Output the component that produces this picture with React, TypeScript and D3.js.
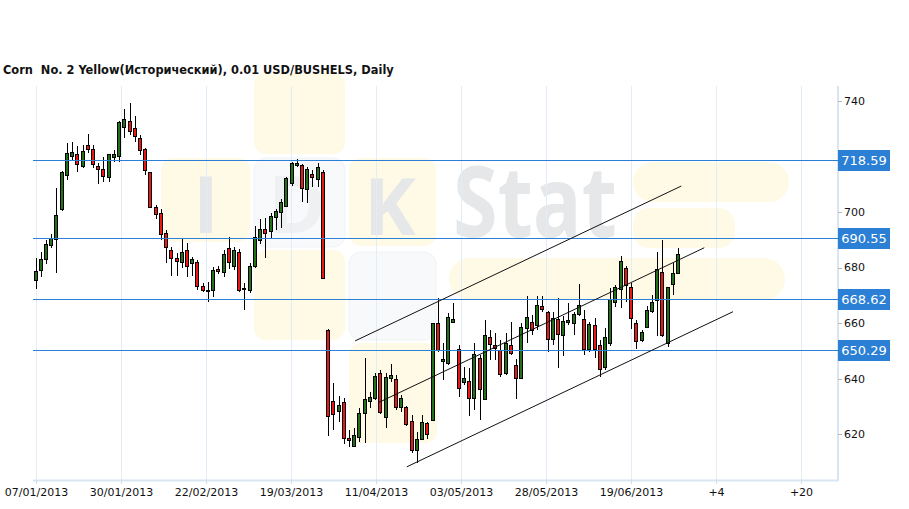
import React from "react";
import * as d3 from "d3";

const opens = [675.4,679.0,683.0,688.0,690.3,700.9,713.2,720.0,720.7,716.6,724.0,722.6,716.5,715.3,712.4,719.6,720.0,730.4,732.7,730.1,726.5,722.6,714.2,701.9,699.5,692.3,686.3,683.3,682.1,686.3,681.5,681.9,673.3,671.4,671.9,679.5,678.3,687.0,680.7,685.5,672.2,671.8,680.4,689.9,693.7,693.1,698.1,700.1,702.1,710.3,716.8,716.9,708.1,713.6,711.8,714.4,657.5,632.0,628.3,631.5,618.6,615.8,619.0,627.5,632.1,633.0,641.9,626.1,640.3,640.0,629.7,629.7,624.9,614.3,618.2,624.0,625.1,659.9,646.5,645.8,660.5,650.6,638.7,639.2,632.9,647.3,632.7,654.9,652.0,650.3,641.9,652.0,644.8,640.1,658.1,660.5,659.3,666.1,663.9,654.2,661.5,655.8,660.4,660.0,663.1,661.4,650.6,659.3,652.1,644.2,652.7,667.7,672.2,679.7,673.1,659.9,653.9,658.5,664.4,668.3,678.5,652.7,674.0,678.1];
const highs = [683.3,685.7,689.9,691.9,708.5,714.7,724.7,725.0,723.8,724.1,727.9,724.1,717.6,719.9,720.9,722.3,732.7,736.9,739.1,734.6,727.7,722.9,714.4,702.5,700.9,693.5,687.5,685.1,690.1,688.7,683.9,682.7,674.3,674.9,680.3,680.5,686.3,690.9,687.5,686.7,674.3,681.6,694.9,697.3,697.7,699.5,700.9,704.5,712.7,718.1,718.9,717.1,716.0,715.1,717.7,715.1,657.7,638.6,633.8,633.0,621.5,622.3,629.6,647.3,635.3,641.9,643.1,641.9,645.2,641.3,634.1,630.2,626.9,620.9,626.9,624.5,660.0,668.9,652.7,663.5,667.1,652.1,644.3,643.7,652.7,648.5,661.1,657.5,656.3,653.9,656.3,660.5,647.0,659.9,669.7,662.9,669.7,669.7,664.5,663.9,668.9,662.6,667.1,664.1,674.1,664.7,660.5,661.7,653.9,658.1,672.5,673.7,684.1,680.5,674.3,661.1,657.5,666.1,670.1,685.7,689.9,673.1,681.7,686.9];
const lows = [672.3,676.7,681.2,687.1,677.9,700.5,711.5,718.6,714.5,715.9,721.1,715.7,709.9,710.6,710.6,718.1,718.1,726.7,727.7,725.3,720.5,713.3,701.3,697.3,689.9,681.7,676.9,676.9,679.7,676.7,676.9,671.9,671.3,667.7,669.5,677.7,676.7,679.5,679.1,671.3,664.7,670.7,679.8,688.5,683.3,690.1,693.5,694.1,701.9,709.3,716.3,703.7,703.1,709.1,709.1,675.8,619.4,621.5,624.4,616.5,615.3,615.4,617.2,617.0,629.4,632.3,627.3,622.2,638.8,628.7,628.1,623.0,613.4,609.8,617.9,618.2,624.8,649.6,639.5,644.9,660.0,633.3,637.7,626.6,628.7,625.1,632.5,646.7,646.7,640.7,641.3,648.5,632.6,639.8,652.7,655.7,657.5,664.0,649.7,652.1,644.0,648.2,659.3,655.7,662.6,648.5,649.6,647.3,640.7,643.1,651.8,665.9,665.3,667.7,657.8,650.6,653.2,658.2,663.6,655.4,655.1,651.5,670.1,677.7];
const closes = [678.7,683.0,688.3,690.5,698.9,714.2,721.1,721.4,717.1,721.8,722.5,717.1,715.4,712.8,720.7,720.7,732.2,733.3,729.1,727.4,722.2,715.0,701.9,699.1,692.0,687.3,683.3,682.3,685.5,680.5,683.1,673.3,671.9,671.9,679.1,678.8,684.9,681.9,686.2,671.8,672.7,680.5,690.8,693.7,692.3,698.6,700.3,703.5,712.1,717.5,717.5,708.5,715.4,712.4,716.0,676.1,626.7,627.2,630.5,618.6,617.8,619.7,627.7,632.6,633.5,641.1,627.9,640.7,641.2,629.7,633.0,623.7,614.4,618.2,624.5,620.1,659.9,650.3,647.0,662.1,661.4,636.5,640.1,632.9,648.9,636.2,655.7,652.5,651.0,641.6,652.7,649.4,640.1,658.5,662.1,657.5,666.5,665.0,654.2,661.7,656.1,660.8,661.0,663.3,666.5,650.6,659.6,650.7,643.4,654.9,668.6,673.1,682.3,673.7,661.7,653.6,656.7,664.7,667.7,679.4,655.7,672.9,678.1,684.9];

const dateTickIdx = [0, 16.29, 32.58, 48.87, 65.16, 81.45, 97.74, 114.03, 130.32, 146.61];
const dateTickLabels = ["07/01/2013","30/01/2013","22/02/2013","19/03/2013","11/04/2013","03/05/2013","28/05/2013","19/06/2013","+4","+20"];
const priceTicks = [620, 640, 660, 680, 700, 740];
const levels = [718.59, 690.55, 668.62, 650.29];

const trendStartIdx = [61.17, 65.63, 71.07];
const trendStartPrice = [653.6, 631.4, 608.3];
const trendEndIdx = [123.6, 128.0, 133.5];
const trendEndPrice = [709.3, 687.1, 664.1];

const title = "Corn  No. 2 Yellow(Исторический), 0.01 USD/BUSHELS, Daily";

const W = 909, H = 509;
const L = 33, R = 838, T = 86, B = 480;
const FONT = "'DejaVu Sans', Verdana, sans-serif";
const GREEN = "#24701a";
const RED = "#ee1515";
const BLUE = "#2b7fd4";

export default function App() {
  const x = d3.scaleLinear().domain([-0.48, 153.6]).range([L, R]);
  const y = d3.scaleLinear().domain([603.56, 745.29]).range([B, T]);
  const yellow = "#fefae5";
  const whiteBlk = "#f8f9fb";
  const wmText = "#e6e7e9";

  return (
    <svg width={W} height={H} style={{ position: "absolute", left: 0, top: 0, background: "#fff" }}>
      {/* watermark */}
      <g>
        <rect x={254} y={73} width={91} height={81} rx={12} fill={yellow} />
        <rect x={161} y={158} width={89} height={84} rx={12} fill={yellow} />
        <rect x={254} y={158} width={91} height={89} rx={12} fill={whiteBlk} stroke="#f0f2f5" />
        <rect x={349} y={158} width={87} height={88} rx={12} fill={yellow} />
        <rect x={254} y={250} width={91} height={90} rx={12} fill={yellow} />
        <rect x={349} y={252} width={87} height={88} rx={12} fill={whiteBlk} stroke="#f0f2f5" />
        <rect x={349} y={343} width={88} height={100} rx={12} fill={yellow} />
        <rect x={633} y={162} width={156} height={40} rx={20} fill={yellow} />
        <rect x={633} y={208} width={102} height={40} rx={16} fill={yellow} />
        <rect x={449} y={258} width={336} height={42} rx={21} fill={yellow} />
        <text x={193} y={233} fontFamily="'Open Sans', sans-serif" fontWeight="bold" fontSize={78} fill={wmText}>I</text>
        <text x={268} y={233} fontFamily="'Open Sans', sans-serif" fontWeight="bold" fontSize={78} fill="#eef0f2">D</text>
        <text x={364} y={235} fontFamily="'Open Sans', sans-serif" fontWeight="bold" fontSize={78} fill={wmText}>K</text>
        <text x={453} y={237} fontFamily="'Open Sans', sans-serif" fontWeight="bold" fontSize={98} fill={wmText} textLength={164} lengthAdjust="spacingAndGlyphs">Stat</text>
      </g>

      {/* title */}
      <text x={3} y={74} fontFamily={FONT} fontWeight="bold" fontSize={11.4} fill="#111" style={{ whiteSpace: "pre" }}>{title}</text>

      {/* vertical grid */}
      {dateTickIdx.map((d, i) => {
        const gx = Math.round(x(d)) + 0.5;
        return <line key={"g" + i} x1={gx} x2={gx} y1={T} y2={B} stroke="#e3edf7" strokeWidth={1} />;
      })}
      {/* axes */}
      <line x1={L} x2={R} y1={B + 0.5} y2={B + 0.5} stroke="#d8e6f3" strokeWidth={2} />
      <line x1={R} x2={R} y1={T} y2={B + 1} stroke="#d8e6f3" strokeWidth={2} />
      {dateTickIdx.map((d, i) => {
        const gx = Math.round(x(d)) + 0.5;
        return (
          <g key={"xt" + i}>
            <line x1={gx} x2={gx} y1={B} y2={B + 4} stroke="#d0deea" />
            <text x={gx} y={496} textAnchor="middle" fontFamily={FONT} fontSize={11} fill="#111">{dateTickLabels[i]}</text>
          </g>
        );
      })}
      {priceTicks.map((p, i) => (
        <g key={"yt" + i}>
          <line x1={R} x2={R + 4} y1={Math.round(y(p)) + 0.5} y2={Math.round(y(p)) + 0.5} stroke="#bbb" />
          <text x={844} y={y(p)} dy="0.35em" fontFamily={FONT} fontSize={11} fill="#111">{p}</text>
        </g>
      ))}

      {/* candles */}
      {opens.map((o, i) => {
        const c = closes[i];
        const up = c >= o;
        const cx = Math.round(x(i));
        const top = Math.round(y(Math.max(o, c)));
        const bot = Math.round(y(Math.min(o, c)));
        const hh = Math.max(bot - top, 1);
        return (
          <g key={"c" + i}>
            <line x1={cx + 0.5} x2={cx + 0.5} y1={Math.round(y(highs[i]))} y2={Math.round(y(lows[i]))} stroke="#000" strokeWidth={1} />
            <rect x={cx - 2 + 0.5} y={top + 0.5} width={3} height={hh} fill={up ? GREEN : RED} stroke="#000" strokeWidth={1} />
          </g>
        );
      })}

      {/* levels */}
      {levels.map((v, i) => {
        const ly = Math.round(y(v)) + 0.5;
        return <line key={"l" + i} x1={L} x2={R} y1={ly} y2={ly} stroke={BLUE} strokeWidth={1.2} />;
      })}

      {/* trend lines */}
      {trendStartIdx.map((s, i) => (
        <line key={"t" + i} x1={x(s)} y1={y(trendStartPrice[i])} x2={x(trendEndIdx[i])} y2={y(trendEndPrice[i])} stroke="#111" strokeWidth={1} />
      ))}

      {/* level labels */}
      {levels.map((v, i) => (
        <g key={"lb" + i}>
          <rect x={R} y={Math.round(y(v)) - 10} width={52} height={21} fill={BLUE} />
          <text x={R + 26} y={y(v)} dy="0.36em" textAnchor="middle" fontFamily={FONT} fontSize={13} fill="#fff">{v.toFixed(2)}</text>
        </g>
      ))}
    </svg>
  );
}
